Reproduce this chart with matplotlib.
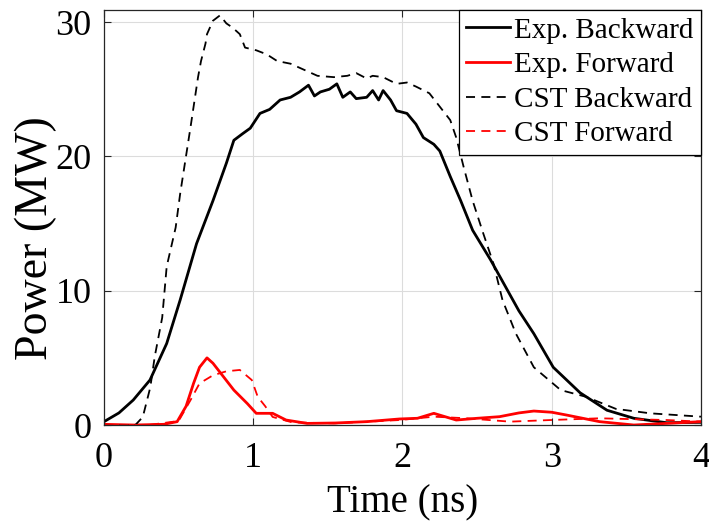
import matplotlib
matplotlib.use("Agg")
import matplotlib.pyplot as plt

# Exp. Backward
t_exp_b = [0.0, 0.1, 0.196, 0.308, 0.42, 0.51, 0.62, 0.73, 0.82, 0.87, 0.93, 0.98, 1.045, 1.11, 1.18,
           1.25, 1.31, 1.37, 1.41, 1.45, 1.51, 1.56, 1.60, 1.65, 1.69, 1.76, 1.80, 1.84, 1.87, 1.92,
           1.96, 2.03, 2.09, 2.14, 2.21, 2.25, 2.32, 2.39, 2.47, 2.59, 2.68, 2.78, 2.88, 3.01, 3.19,
           3.37, 3.55, 3.77, 4.0]
p_exp_b = [0.25, 0.9, 1.86, 3.35, 6.07, 9.3, 13.5, 16.7, 19.5, 21.2, 21.7, 22.1, 23.2, 23.5, 24.2,
           24.4, 24.8, 25.3, 24.5, 24.8, 25.0, 25.4, 24.4, 24.8, 24.3, 24.4, 24.9, 24.2, 24.9, 24.2,
           23.4, 23.2, 22.4, 21.4, 20.9, 20.4, 18.5, 16.7, 14.5, 12.3, 10.5, 8.5, 6.8, 4.3, 2.4,
           1.1, 0.5, 0.17, 0.2]

# Exp. Forward
t_exp_f = [0.0, 0.2, 0.4, 0.49, 0.55, 0.6, 0.64, 0.69, 0.73, 0.8, 0.87, 0.96, 1.02, 1.13, 1.22, 1.36,
           1.55, 1.76, 1.98, 2.1, 2.21, 2.36, 2.5, 2.65, 2.78, 2.88, 3.0, 3.1, 3.32, 3.55, 3.77, 4.0]
p_exp_f = [0.05, 0.0, 0.05, 0.25, 1.4, 3.1, 4.3, 5.0, 4.6, 3.6, 2.6, 1.6, 0.87, 0.87, 0.37, 0.12,
           0.15, 0.25, 0.45, 0.5, 0.87, 0.37, 0.5, 0.62, 0.9, 1.04, 0.95, 0.74, 0.25, 0.0, 0.12, 0.25]

# CST Backward
t_cst_b = [0.0, 0.21, 0.26, 0.31, 0.34, 0.39, 0.42, 0.48, 0.51, 0.58, 0.63, 0.65, 0.68, 0.69, 0.73,
           0.777, 0.82, 0.86, 0.91, 0.945, 1.02, 1.09, 1.16, 1.25, 1.31, 1.43, 1.54, 1.63, 1.69, 1.76,
           1.80, 1.87, 1.96, 2.03, 2.09, 2.18, 2.25, 2.32, 2.36, 2.41, 2.47, 2.54, 2.61, 2.67, 2.76,
           2.88, 3.06, 3.23, 3.43, 3.66, 4.0]
p_cst_b = [0.0, 0.0, 0.6, 2.8, 5.1, 8.0, 11.8, 14.7, 17.2, 22.2, 25.9, 27.1, 28.4, 29.1, 30.1,
           30.5, 29.9, 29.6, 29.1, 28.1, 27.9, 27.6, 27.1, 26.9, 26.6, 26.0, 25.9, 26.0, 26.2, 25.8,
           26.0, 25.9, 25.4, 25.5, 25.2, 24.7, 23.7, 22.7, 21.4, 19.2, 16.7, 14.3, 12.0, 9.3, 6.8,
           4.3, 2.6, 2.1, 1.2, 0.87, 0.62]

# CST Forward
t_cst_f = [0.0, 0.3, 0.5, 0.58, 0.64, 0.73, 0.82, 0.91, 0.99, 1.03, 1.08, 1.13, 1.26, 1.54, 1.98,
           2.21, 2.43, 2.72, 2.99, 3.32, 3.77, 4.0]
p_cst_f = [0.0, 0.0, 0.3, 1.86, 3.1, 3.7, 4.0, 4.1, 3.35, 2.1, 1.4, 0.6, 0.2, 0.12, 0.37,
           0.62, 0.5, 0.25, 0.37, 0.5, 0.37, 0.25]

x_ticks = [0, 1, 2, 3, 4]
y_ticks = [0, 10, 20, 30]

plt.rcParams['font.family'] = ['Liberation Serif', 'DejaVu Serif']

fig = plt.figure(figsize=(7.09, 5.26), dpi=100)
ax = fig.add_axes([0.1467, 0.192, 0.842, 0.789])

ax.plot(t_exp_b, p_exp_b, color='black', lw=2.0, label='Exp. Backward')
ax.plot(t_exp_f, p_exp_f, color='red', lw=2.0, label='Exp. Forward')
ax.plot(t_cst_b, p_cst_b, color='black', lw=1.3, ls=(0, (5, 3.5)), label='CST Backward')
ax.plot(t_cst_f, p_cst_f, color='red', lw=1.3, ls=(0, (5, 3.5)), label='CST Forward')

ax.set_xlim(0, 4)
ax.set_ylim(0, 30.9)
ax.set_xticks(x_ticks)
ax.set_yticks(y_ticks)
ax.grid(True, color='#dcdcdc', lw=0.8)
ax.tick_params(direction='in', top=True, right=True, labelsize=26, length=5, color='#262626')
ax.tick_params(axis='x', pad=12)
ax.tick_params(axis='y', pad=9)
for s in ax.spines.values():
    s.set_color('#262626')
    s.set_linewidth(0.9)

ax.set_xlabel('Time (ns)', fontsize=28, labelpad=7)
ax.set_ylabel('Power (MW)', fontsize=33)
ax.yaxis.set_label_coords(-0.078, 0.45)

leg = ax.legend(loc='upper right', fontsize=21, frameon=True, fancybox=False,
                edgecolor='black', framealpha=1, handlelength=1.5, handletextpad=0.15,
                borderpad=0.25, labelspacing=0.28, borderaxespad=0.0)
leg.get_frame().set_linewidth(0.9)

fig.savefig('out.png', dpi=100)
